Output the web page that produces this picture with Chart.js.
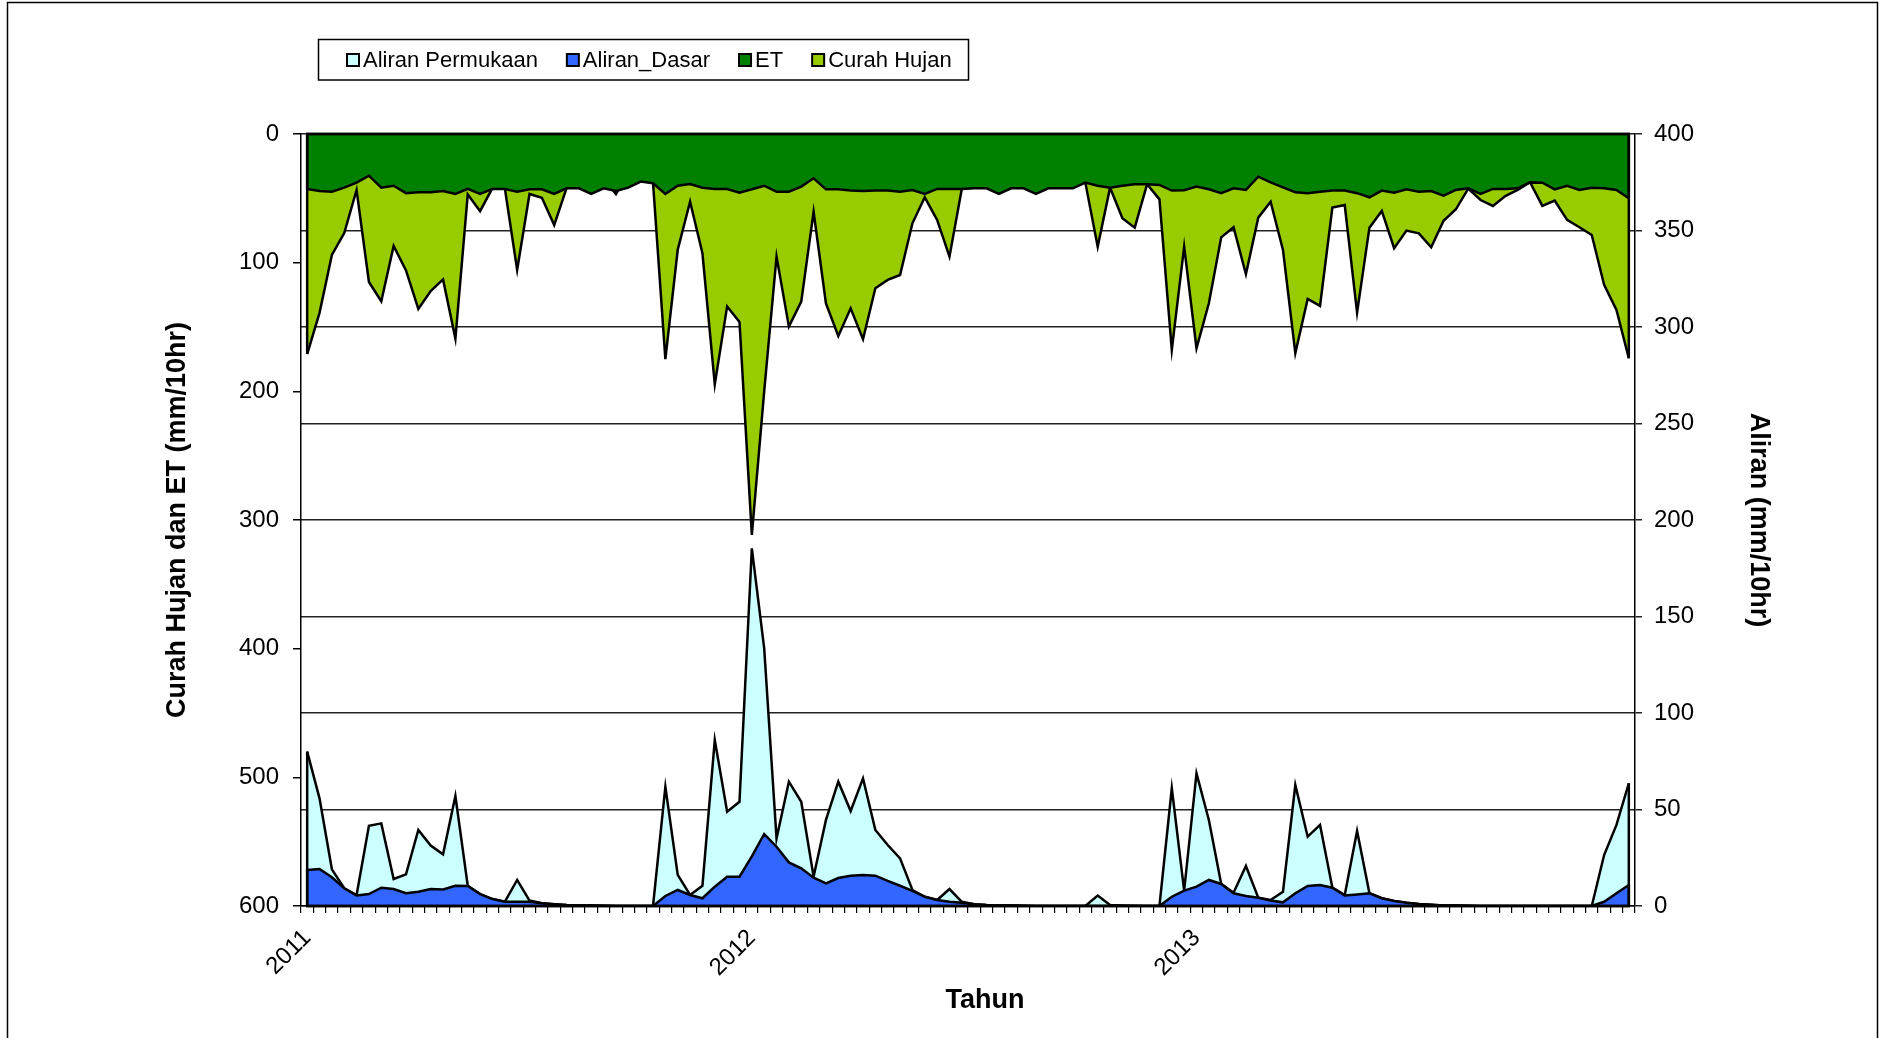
<!DOCTYPE html>
<html>
<head>
<meta charset="utf-8">
<script src="https://cdn.jsdelivr.net/npm/chart.js@4.4.1/dist/chart.umd.min.js"></script>
<style>
  html, body { margin: 0; padding: 0; background: #fff; }
</style>
</head>
<body>
<canvas id="chart" width="1879" height="1038"></canvas>
<script>
// 36 dekad (10-day) periods per year
const years = ['2011', '2012', '2013'];
const dekads = 36;
const categories = [];
years.forEach(y => { for (let d = 1; d <= dekads; d++) categories.push(y + '/' + d); });

const leftTicks = [0, 100, 200, 300, 400, 500, 600];
const rightTicks = [0, 50, 100, 150, 200, 250, 300, 350, 400];

// left axis (reversed): mm/10hr
const curahHujan = [
  171, 139, 94, 77, 43.5, 115, 130, 87, 106, 136, 122, 113, 159, 47, 60, 42, 42, 105.7,
  46.6, 49.5, 70.8, 42, 30, 25, 35, 46.6, 30, 20, 38, 175, 90, 52.6, 92.7, 194.5, 134, 146,
  311.6, 200, 95.3, 149.7, 130.3, 60.4, 131.6, 157, 135.5, 159.5, 119.9, 113.4, 109.6, 69.4, 49.2, 66.8,
  95.3, 42.5, 30, 20, 25, 15, 30, 20, 25, 30, 35, 37.8, 87.6, 41.7, 65.5, 72.8, 39, 50.8,
  167.8, 87.6, 166.5, 131.6, 80.3, 72.5, 109, 65, 52.6, 90.1, 170.4, 128.2, 133.6, 57.2, 55.2, 138.8,
  72.8, 59.8, 88.8, 75.1, 77.2, 88, 67.4, 58.5, 42.5, 51.3, 55.9, 48.2, 43.5, 37.5, 55.9, 51.8,
  66.8, 72.5, 78.5, 117.3, 136.8, 174.3
];
const et = [
  42.7, 44.3, 44.8, 41.7, 37.8, 32.4, 41.7, 40.2, 46, 45.3, 45.3, 44.3, 46.6, 42.7, 46.6, 42.7, 42.7, 44.8,
  43, 43, 46.6, 42.2, 42.2, 46.6, 42.2, 44.3, 41.7, 37, 38.3, 46.6, 40.2, 38.9, 41.7, 42.7, 42.7, 45.6,
  43, 40.2, 44.8, 44.8, 40.9, 34.4, 43, 43, 44, 44.3, 44, 44, 44.8, 43.5, 46.6, 42.7,
  42.7, 42.7, 42.2, 42.2, 46.6, 42.2, 42.2, 46.6, 42.2, 42.2, 42.2, 37.8, 40.2, 41.7, 40.2, 39.1, 39.1, 39.6,
  44, 43.7, 40.9, 43, 46, 42.2, 43.5, 33.2, 37.6, 41.5, 45.3, 46, 44.8, 44, 44, 46,
  49.2, 44, 45.6, 43, 44.8, 44.3, 47.9, 43.5, 42.2, 46.6, 42.7, 42.7, 42.2, 37.6, 37.8, 43,
  40.2, 43.5, 41.7, 42.2, 43.5, 50
];

// right axis: mm/10hr
const aliranPermukaan = [
  80, 55.8, 19, 9.2, 5.7, 41.6, 42.8, 14, 16.4, 39.4, 31.3, 26.8, 57, 10.5, 6.2, 3.6, 2.2, 13.5,
  2.8, 1.4, 0.9, 0.5, 0.3, 0.2, 0.1, 0, 0, 0, 0, 61.8, 16.1, 5.7, 10.5, 86, 48.9, 54,
  185.3, 133.5, 35, 64.4, 54, 15.2, 44.6, 64.4, 49.2, 66.1, 39.4, 31.6, 24.7, 8.3, 4.8, 3.1,
  8.8, 2.2, 0.9, 0.5, 0.3, 0.2, 0.1, 0, 0, 0, 0, 0, 5.4, 0.5, 0.3, 0.1, 0, 0,
  61, 8, 68.7, 44.6, 11.4, 6.9, 20.7, 4.3, 3.1, 7.4, 62.7, 35.9, 42, 9.5, 5.7, 38.9,
  6.6, 4, 2.6, 1.7, 1, 0.7, 0.3, 0.2, 0.1, 0, 0, 0, 0, 0, 0, 0,
  0, 0, 0, 26.4, 42, 63.6
];
const aliranDasar = [
  18.7, 19.2, 14.9, 9.2, 5.4, 6.2, 9.5, 8.8, 6.6, 7.4, 8.8, 8.6, 10.5, 10.4, 6.2, 3.6, 2.2, 2.2,
  2.2, 1.4, 0.9, 0.5, 0.3, 0.2, 0.1, 0, 0, 0, 0, 5.2, 8.3, 5.7, 4, 10, 15.2, 15.2,
  25.7, 37.3, 30.7, 22.6, 19.5, 14.7, 11.7, 14.5, 15.7, 16.1, 15.7, 13, 10.5, 7.8, 4.8, 3.1,
  2.2, 1.7, 0.9, 0.5, 0.3, 0.2, 0.1, 0, 0, 0, 0, 0, 0, 0, 0, 0, 0, 0,
  4.8, 8, 10, 13.5, 11.4, 6.6, 5.2, 4.3, 2.8, 1.9, 6.6, 10.4, 10.9, 9.5, 5.4, 6,
  6.6, 4, 2.6, 1.7, 1, 0.7, 0.3, 0.2, 0.1, 0, 0, 0, 0, 0, 0, 0,
  0, 0, 0, 2.2, 6.6, 10.9
];

const FONT = 'Liberation Sans, Arial, Helvetica, sans-serif';
Chart.defaults.font.family = FONT;
Chart.defaults.color = '#000';

// excel-like extras: background, area outlines, framed legend, x title
const excelLook = {
  id: 'excelLook',
  beforeDraw(chart) {
    const ctx = chart.ctx;
    ctx.save();
    ctx.fillStyle = '#fff';
    ctx.fillRect(0, 0, chart.width, chart.height);
    ctx.restore();
  },
  afterDatasetsDraw(chart) {
    const ctx = chart.ctx;
    ctx.save();
    ctx.strokeStyle = '#000';
    ctx.lineWidth = 2.5;
    chart.data.datasets.forEach((ds, i) => {
      const pts = chart.getDatasetMeta(i).data;
      const base = chart.scales[ds.yAxisID].getBasePixel();
      const a = pts[0], b = pts[pts.length - 1];
      ctx.beginPath();
      ctx.moveTo(a.x, a.y);
      ctx.lineTo(a.x, base);
      ctx.lineTo(b.x, base);
      ctx.lineTo(b.x, b.y);
      ctx.stroke();
    });
    ctx.restore();
  },
  afterDraw(chart) {
    const ctx = chart.ctx;
    ctx.save();
    // outer frame
    ctx.strokeStyle = '#000';
    ctx.lineWidth = 1.5;
    ctx.strokeRect(7.5, 2.5, 1870, 1050);

    // legend box
    ctx.strokeRect(318.5, 39.5, 650, 40.5);
    ctx.font = '22px ' + FONT;
    ctx.textBaseline = 'middle';
    ctx.textAlign = 'left';
    let x = 347;
    chart.data.datasets.forEach(ds => {
      ctx.fillStyle = ds.backgroundColor;
      ctx.fillRect(x, 54, 12, 12);
      ctx.lineWidth = 2;
      ctx.strokeStyle = '#000';
      ctx.strokeRect(x, 54, 12, 12);
      ctx.fillStyle = '#000';
      ctx.fillText(ds.label, x + 16, 61);
      x += 16 + ctx.measureText(ds.label).width + 29;
    });

    // x axis title
    ctx.font = 'bold 27px ' + FONT;
    ctx.textAlign = 'center';
    ctx.fillText('Tahun', 985, 1001);
    ctx.restore();
  }
};

const common = { fill: 'origin', borderColor: '#000', borderWidth: 2.5, pointRadius: 0, tension: 0 };

new Chart(document.getElementById('chart'), {
  type: 'line',
  data: {
    labels: categories,
    datasets: [
      { ...common, label: 'Aliran Permukaan', data: aliranPermukaan, yAxisID: 'y1', backgroundColor: '#CCFFFF', order: 3 },
      { ...common, label: 'Aliran_Dasar', data: aliranDasar, yAxisID: 'y1', backgroundColor: '#3366FF', order: 2 },
      { ...common, label: 'ET', data: et, yAxisID: 'y', backgroundColor: '#008000', order: 0 },
      { ...common, label: 'Curah Hujan', data: curahHujan, yAxisID: 'y', backgroundColor: '#99CC00', order: 1 }
    ]
  },
  options: {
    responsive: false,
    animation: false,
    layout: { padding: { top: 134 } },
    plugins: { legend: { display: false }, tooltip: { enabled: false } },
    scales: {
      x: {
        offset: true,
        grid: { offset: true, drawOnChartArea: false, tickLength: 7, color: '#000', lineWidth: 1.2 },
        border: { color: '#000', width: 1.5 },
        ticks: {
          autoSkip: false, maxRotation: 45, minRotation: 45, padding: 11,
          font: { size: 24 },
          callback: function (value) {
            const parts = this.getLabelForValue(value).split('/');
            return parts[1] === '1' ? parts[0] : '';
          }
        },
        afterFit: s => { s.height = 132; }
      },
      y: {
        position: 'left',
        reverse: true,
        min: 0, max: 600,
        afterBuildTicks: s => { s.ticks = leftTicks.map(v => ({ value: v })); },
        ticks: { padding: 14, font: { size: 24 } },
        grid: { drawOnChartArea: false, tickLength: 8, color: '#000', lineWidth: 1.5 },
        border: { color: '#000', width: 1.5 },
        title: {
          display: true, text: 'Curah Hujan dan ET (mm/10hr)',
          font: { size: 27, weight: 'bold' }, padding: { top: 161, bottom: 0 }
        },
        afterFit: s => { s.width = 301; }
      },
      y1: {
        position: 'right',
        min: 0, max: 400,
        afterBuildTicks: s => { s.ticks = rightTicks.map(v => ({ value: v })); },
        ticks: { padding: 12, font: { size: 24 } },
        grid: { drawOnChartArea: true, tickLength: 7, color: '#222', lineWidth: 1.5 },
        border: { color: '#000', width: 1.5 },
        title: {
          display: true, text: 'Aliran (mm/10hr)',
          font: { size: 27, weight: 'bold' }, padding: { top: 104, bottom: 0 }
        },
        afterFit: s => { s.width = 244; }
      }
    }
  },
  plugins: [excelLook]
});
</script>
</body>
</html>
